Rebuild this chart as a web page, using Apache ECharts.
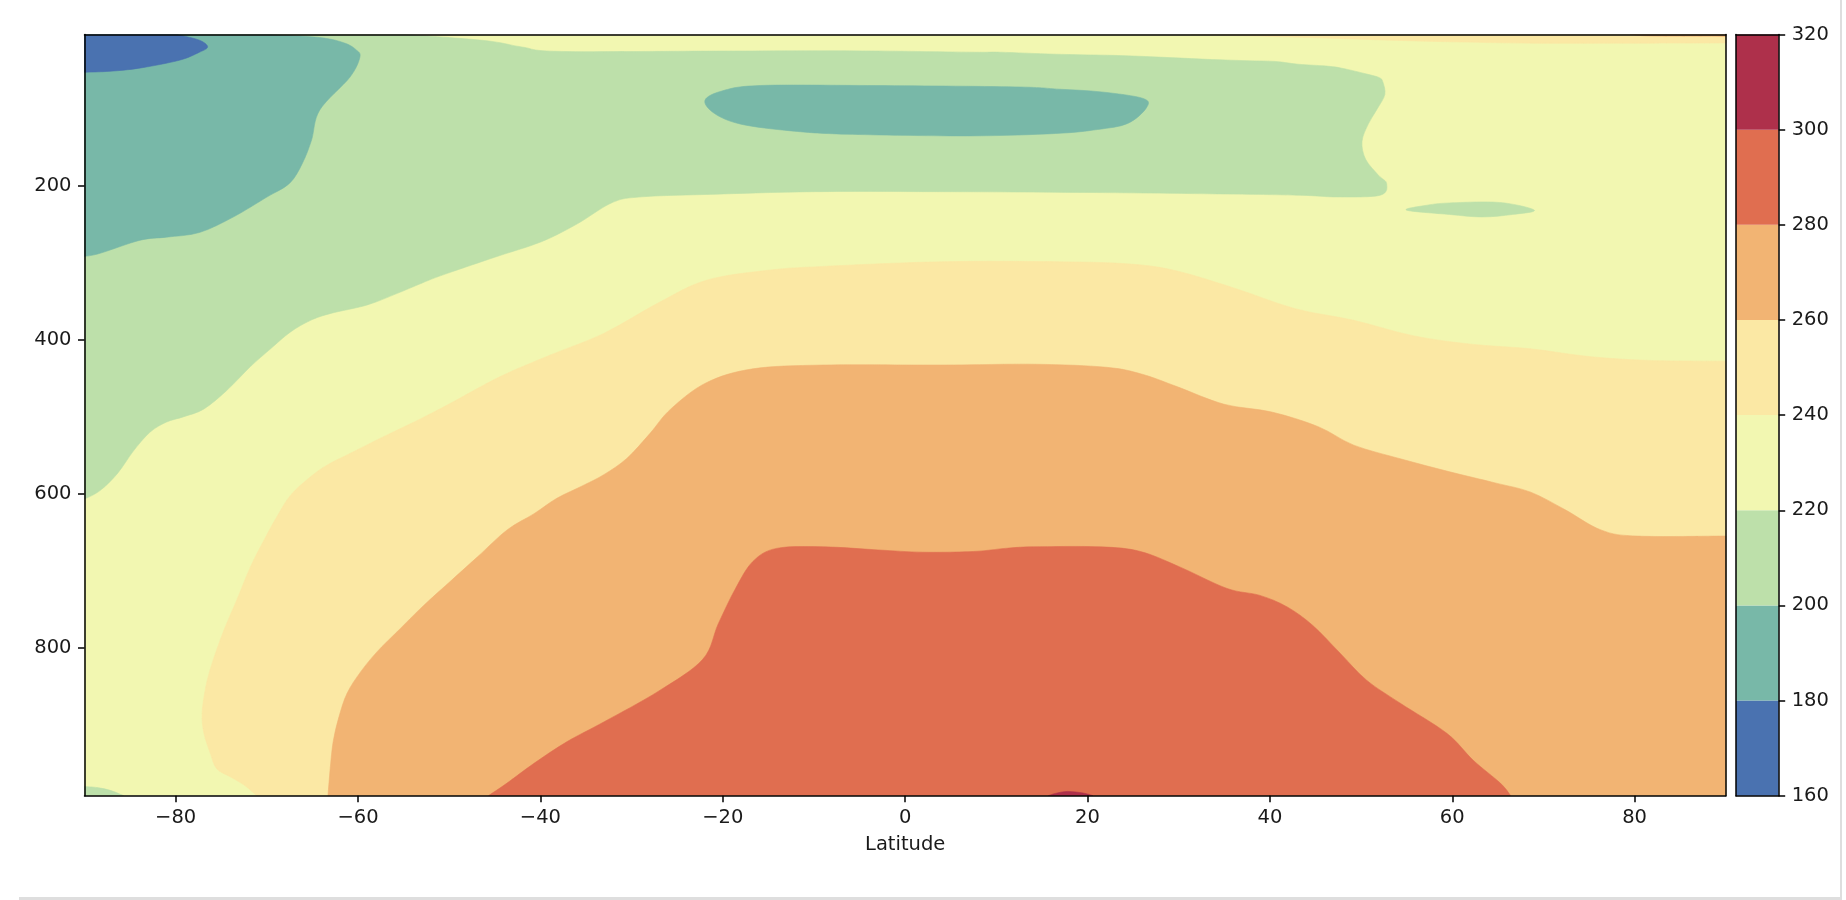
<!DOCTYPE html>
<html><head><meta charset="utf-8">
<script src="https://cdn.jsdelivr.net/npm/echarts@6/dist/echarts.min.js"></script>
<style>html,body{margin:0;padding:0;background:#fff;} #c{width:1846px;height:900px;}</style>
</head><body><div id="c"></div>
<script>
// ---- axis ticks / levels ----
const latTicks = [-80, -60, -40, -20, 0, 20, 40, 60, 80];
const pressureTicks = [200, 400, 600, 800];
const levels = [160, 180, 200, 220, 240, 260, 280, 300, 320];
const levelColors = ['#4a72b0', '#78b8a8', '#bde0aa', '#f2f7b1', '#fbe8a4', '#f2b473', '#e06e50', '#ae304b'];
const latRange = [-90, 90];
const pressureRange = [4, 992];

// ---- contour regions [latitude, pressure hPa] ----
const band220to240 = [[-90, 4], [90, 4], [90, 992], [-90, 992]];
const above240 = [[-71.1, 992], [-72.5, 978], [-74, 967.5], [-75.5, 957], [-76.2, 937], [-76.9, 911], [-77.1, 885], [-76.7, 851], [-76, 820], [-74.7, 777], [-73.3, 738], [-71.8, 695], [-70.3, 660], [-68.9, 630], [-67.4, 602], [-65.2, 578], [-63.4, 563], [-60.9, 548], [-57.2, 526], [-53.5, 505], [-49.9, 483], [-44.4, 448], [-38.9, 420], [-33.05, 392], [-27, 352], [-21.8, 323], [-15, 310], [-8.9, 305], [4, 299], [16.9, 299], [24.7, 302], [29.8, 311], [36.3, 334], [42.8, 360], [49.2, 375], [55.7, 395], [62.1, 406], [68.6, 412], [75, 422], [81.5, 427], [90, 428], [90, 992]];
const above260 = [[-63.3, 992], [-63.0, 950], [-62.7, 920], [-62.1, 890], [-61.2, 859], [-59.7, 831], [-57.9, 805], [-55.7, 779], [-52.8, 745], [-49.9, 714], [-46.9, 682], [-43.65, 647], [-40.7, 626], [-38.2, 606], [-35.25, 589], [-33, 575], [-30.5, 554], [-28, 522], [-25.7, 490], [-21.8, 456], [-16.7, 438], [-8.9, 433], [4, 433], [14.3, 432], [22.1, 436], [26, 445], [29.8, 461], [35, 484], [40.2, 494], [45.3, 513], [49.2, 537], [54.4, 555], [59.5, 571], [64.7, 586], [68.6, 598], [72.4, 621], [76.3, 647], [80.2, 655], [90, 655], [90, 992]];
const above280 = [[-45.7, 992], [-43.7, 976], [-40.7, 950], [-37.1, 922], [-33, 896], [-27, 856], [-22.2, 815], [-20.5, 769], [-18.6, 723], [-16.7, 688], [-14.1, 671], [-8.9, 669], [-3, 673], [2, 676], [7.5, 675], [11, 671], [14, 669], [21.4, 669], [25.8, 675], [30.1, 695], [35.3, 723], [38.9, 732], [41.9, 747], [44.7, 771], [47.7, 807], [50.6, 842], [54.3, 872], [59.4, 911], [62.3, 946], [65.3, 976], [66.4, 992]];
const above300 = [[15.7, 992], [16.5, 989], [17.8, 986.5], [19.5, 988.5], [20.6, 992]];
const topAbove240 = [[31.3, 4], [40, 6.5], [46, 8.5], [52.3, 11], [60, 13.5], [69, 15.3], [80, 15.2], [90, 15], [90, 4]];
const topAbove260 = [[79.5, 4], [82, 6], [90, 6.5], [90, 4]];
const below220 = [[-90, 4], [-54.7, 4], [-50, 8], [-45.3, 13], [-41.9, 20.5], [-37.7, 26], [-20, 25.5], [-4.7, 25.3], [7.5, 27], [10.4, 27], [16.5, 29.6], [23.4, 31.3], [29, 34], [33.6, 36.5], [37.5, 38], [40.6, 39], [43.1, 42.6], [46.2, 45], [47.9, 47.8], [50.5, 55], [52, 60], [52.4, 66], [52.6, 82], [51.8, 100], [50.8, 120], [50.1, 143], [50.5, 166], [51.9, 186.6], [52.8, 197.4], [52.1, 212.6], [47.4, 214.8], [43.3, 212.6], [35, 211], [20, 209], [4, 208], [-10, 208], [-21.8, 211.6], [-28.9, 214.7], [-32.1, 222], [-36, 250], [-39.9, 273], [-45, 293], [-50.2, 314], [-52.25, 323], [-55.7, 340], [-59, 355], [-63, 366], [-65.2, 375], [-67.4, 390], [-69.6, 412], [-71.8, 435], [-74.4, 466], [-76.9, 490], [-79.1, 500], [-81, 507], [-82.8, 520], [-84.6, 544], [-86.4, 574], [-88.3, 596], [-90, 607]];
const below220Patch = [[55.0, 232], [57, 226], [59.7, 222.6], [65.2, 222], [69.0, 232], [66.6, 237.6], [63.3, 240.8], [59.7, 237.6]];
const below220Corner = [[-90, 980], [-88.6, 981.5], [-87.2, 985], [-85.7, 992], [-90, 992]];
const below200 = [[-90, 4], [-69.7, 4], [-64.2, 8], [-61.5, 15], [-60.2, 24], [-59.8, 33.5], [-60.9, 59.5], [-64.2, 102], [-65.1, 141], [-66.1, 171], [-67.5, 197], [-70.0, 215], [-73.7, 241], [-77.4, 261], [-81.0, 267], [-83.9, 271], [-88.3, 288], [-90, 292]];
const below200Core = [[-21.95, 89.3], [-20, 77], [-15.9, 70.2], [-4.1, 70.2], [12.05, 72], [16.9, 75], [21.5, 78.5], [26.1, 87], [26.45, 99.3], [24.4, 119.5], [21.1, 127.3], [16.5, 132.5], [7.0, 135.6], [-6.4, 133.4], [-12.5, 129.1], [-18.0, 120.4], [-20.9, 106.6]];
const below180 = [[-90, 4], [-79.8, 4], [-77.4, 11.4], [-76.5, 20], [-77.4, 27], [-79.6, 37.4], [-84, 47.7], [-87.2, 51.7], [-90, 53]];

const regions = [
  [band220to240, 3], [above240, 4], [above260, 5], [above280, 6], [above300, 7],
  [topAbove240, 4], [topAbove260, 5],
  [below220, 2], [below220Patch, 2], [below220Corner, 2],
  [below200, 1], [below200Core, 1], [below180, 0]
];

const txt = '#1a1a1a';
const FS = 19.5;
const fmt = v => (v < 0 ? '\u2212' + Math.abs(v) : String(v));

const onEdge = ([lat, p]) => lat <= latRange[0] || lat >= latRange[1] || p <= pressureRange[0] || p >= pressureRange[1];

// smooth outline: straight along the frame, curved along contour lines
function outlinePath(poly, api) {
  const n = poly.length;
  const P = poly.map(d => api.coord(d));
  const E = poly.map(onEdge);
  const f = v => v.toFixed(2);
  let d = 'M' + f(P[0][0]) + ' ' + f(P[0][1]);
  for (let i = 0; i < n; i++) {
    const j = (i + 1) % n;
    if (E[i] && E[j]) { d += 'L' + f(P[j][0]) + ' ' + f(P[j][1]); continue; }
    const p0 = E[i] ? P[i] : P[(i - 1 + n) % n];
    const p3 = E[j] ? P[j] : P[(j + 1) % n];
    const c1 = [P[i][0] + (P[j][0] - p0[0]) / 6, P[i][1] + (P[j][1] - p0[1]) / 6];
    const c2 = [P[j][0] - (p3[0] - P[i][0]) / 6, P[j][1] - (p3[1] - P[i][1]) / 6];
    d += 'C' + f(c1[0]) + ' ' + f(c1[1]) + ' ' + f(c2[0]) + ' ' + f(c2[1]) + ' ' + f(P[j][0]) + ' ' + f(P[j][1]);
  }
  return d + 'Z';
}

const regionSeries = regions.map(([poly, ci], k) => ({
  type: 'custom', xAxisIndex: 0, yAxisIndex: 0, clip: true, z: 2 + k * 0.01,
  data: poly, encode: { x: 0, y: 1 }, silent: true,
  renderItem: (params, api) => {
    if (params.dataIndex !== 0) return null;
    return { type: 'path', shape: { pathData: outlinePath(poly, api) },
      style: { fill: levelColors[ci], stroke: levelColors[ci], lineWidth: 0.6 } };
  }
}));

const cbBands = levels.slice(0, -1).map((lo, i) => [0, lo, levels[i + 1], i]);
const colorbarSeries = {
  type: 'custom', xAxisIndex: 2, yAxisIndex: 2, data: cbBands, encode: { x: 0, y: [1, 2] }, silent: true,
  renderItem: (params, api) => {
    const top = api.coord([0, api.value(2)]);
    const bot = api.coord([0, api.value(1)]);
    const w = api.size([1, 0])[0];
    return { type: 'rect', shape: { x: top[0] - w / 2, y: top[1], width: w, height: bot[1] - top[1] },
      style: { fill: levelColors[api.value(3)] } };
  }
};

const lineStyle = { color: '#000', width: 1.5 };
const hiddenAxisParts = { axisTick: { show: false }, axisLabel: { show: false }, splitLine: { show: false } };

const option = {
  animation: false,
  backgroundColor: '#fff',
  textStyle: { fontFamily: 'DejaVu Sans' },
  grid: [
    { left: 84.5, top: 34.5, width: 1641.3, height: 761.2 },
    { left: 1736, top: 34.5, width: 42.7, height: 761.2 }
  ],
  xAxis: [
    { type: 'value', gridIndex: 0, min: latRange[0], max: latRange[1], position: 'bottom', z: 10,
      axisLine: { show: true, onZero: false, lineStyle },
      axisTick: { show: true, length: 6.5, customValues: latTicks, lineStyle },
      axisLabel: { show: true, customValues: latTicks, formatter: fmt, color: txt, fontSize: FS, margin: 12 },
      splitLine: { show: false },
      name: 'Latitude', nameLocation: 'middle', nameGap: 39,
      nameTextStyle: { color: txt, fontSize: FS, fontFamily: 'DejaVu Sans' } },
    { type: 'value', gridIndex: 0, min: latRange[0], max: latRange[1], position: 'top', z: 10,
      axisLine: { show: true, onZero: false, lineStyle }, ...hiddenAxisParts },
    { type: 'category', gridIndex: 1, data: [''], position: 'bottom', z: 10,
      axisLine: { show: true, onZero: false, lineStyle }, ...hiddenAxisParts },
    { type: 'category', gridIndex: 1, data: [''], position: 'top', z: 10,
      axisLine: { show: true, onZero: false, lineStyle }, ...hiddenAxisParts }
  ],
  yAxis: [
    { type: 'value', gridIndex: 0, inverse: true, min: pressureRange[0], max: pressureRange[1], position: 'left', z: 10,
      axisLine: { show: true, onZero: false, lineStyle },
      axisTick: { show: true, length: 6.5, customValues: pressureTicks, lineStyle },
      axisLabel: { show: true, customValues: pressureTicks, color: txt, fontSize: FS, margin: 13 },
      splitLine: { show: false } },
    { type: 'value', gridIndex: 0, inverse: true, min: pressureRange[0], max: pressureRange[1], position: 'right', z: 10,
      axisLine: { show: true, onZero: false, lineStyle }, ...hiddenAxisParts },
    { type: 'value', gridIndex: 1, min: levels[0], max: levels[levels.length - 1], interval: 20, position: 'right', z: 10,
      axisLine: { show: true, onZero: false, lineStyle },
      axisTick: { show: true, length: 6.5, lineStyle },
      axisLabel: { show: true, color: txt, fontSize: FS, margin: 13 },
      splitLine: { show: false } },
    { type: 'value', gridIndex: 1, min: levels[0], max: levels[levels.length - 1], interval: 20, position: 'left', z: 10,
      axisLine: { show: true, onZero: false, lineStyle }, ...hiddenAxisParts }
  ],
  graphic: [
    { type: 'rect', shape: { x: 1840, y: 0, width: 2, height: 899 }, style: { fill: '#dedede' }, silent: true },
    { type: 'rect', shape: { x: 19, y: 897, width: 1823, height: 3 }, style: { fill: '#dedede' }, silent: true }
  ],
  series: [...regionSeries, colorbarSeries]
};

const chart = echarts.init(document.getElementById('c'), null, { renderer: 'canvas' });
chart.setOption(option);
</script>
</body></html>
